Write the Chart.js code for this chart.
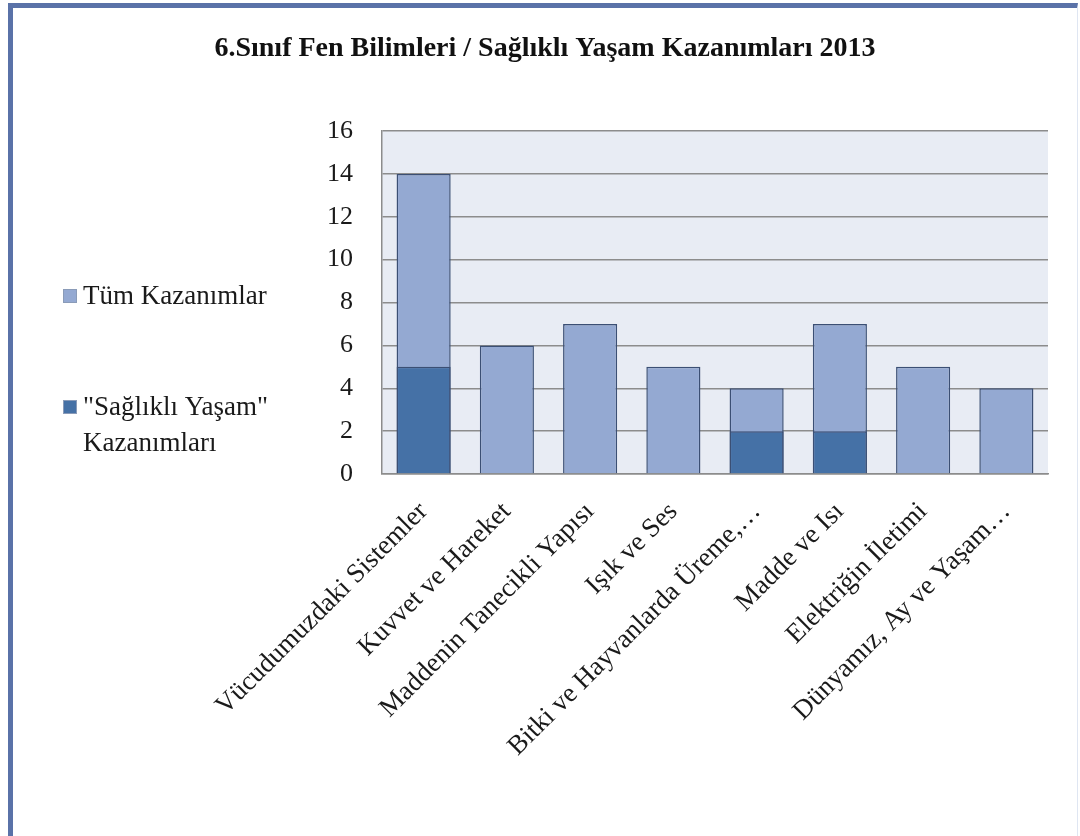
<!DOCTYPE html>
<html>
<head>
<meta charset="utf-8">
<script src="https://cdn.jsdelivr.net/npm/chart.js@4.4.0/dist/chart.umd.min.js"></script>
<style>
  body { margin: 0; background: #fff; }
  #wrap { position: relative; width: 1080px; height: 836px; overflow: hidden; }
  #frame { position: absolute; left: 8px; top: 3px; right: 2px; bottom: -10px;
           border-top: 5px solid #5a72a8; border-left: 5px solid #5a72a8; border-right: 1px solid #dfe6f2; }
  canvas { position: absolute; left: 0; top: 0; }
</style>
</head>
<body>
<div id="wrap">
  <div id="frame"></div>
  <canvas id="chart" width="1080" height="836"></canvas>
</div>
<script>
const chartTitle = '6.Sınıf Fen Bilimleri / Sağlıklı Yaşam Kazanımları 2013';
const categories = [
  'Vücudumuzdaki Sistemler',
  'Kuvvet ve Hareket',
  'Maddenin Tanecikli Yapısı',
  'Işık ve Ses',
  'Bitki ve Hayvanlarda Üreme,…',
  'Madde ve Isı',
  'Elektriğin İletimi',
  'Dünyamız, Ay ve Yaşam…'
];
const tumKazanimlar = [14, 6, 7, 5, 4, 7, 5, 4];
const saglikliYasam = [5, 0, 0, 0, 2, 2, 0, 0];
const yTicks = [0, 2, 4, 6, 8, 10, 12, 14, 16];

const serif = "'Liberation Serif', 'Times New Roman', serif";

// plot background
const plotBg = {
  id: 'plotBg',
  beforeDraw(chart) {
    const { ctx, chartArea: a } = chart;
    ctx.save();
    ctx.fillStyle = '#e8ecf4';
    ctx.fillRect(a.left, a.top, a.right - a.left, a.bottom - a.top);
    ctx.restore();
  }
};

// title centred on the whole picture, legend on the left
const sideLegend = {
  id: 'sideLegend',
  afterDraw(chart) {
    const ctx = chart.ctx;
    ctx.save();
    ctx.font = 'bold 28px ' + serif;
    ctx.fillStyle = '#111';
    ctx.textAlign = 'center';
    ctx.textBaseline = 'middle';
    ctx.fillText(chartTitle, 545, 49);

    const items = [
      { ds: chart.data.datasets[1], y: 296 },
      { ds: chart.data.datasets[0], y: 407 }
    ];
    ctx.font = '27px ' + serif;
    ctx.textAlign = 'left';
    items.forEach(it => {
      ctx.fillStyle = it.ds.backgroundColor;
      ctx.fillRect(63, it.y - 7, 14, 14);
      ctx.strokeStyle = '#8a9bb8';
      ctx.lineWidth = 1;
      ctx.strokeRect(63.5, it.y - 6.5, 13, 13);
      ctx.fillStyle = '#1a1a1a';
      // wrap long label
      const words = it.ds.label.split(' ');
      let line = '', lines = [];
      words.forEach(w => {
        const test = line ? line + ' ' + w : w;
        if (ctx.measureText(test).width > 215 && line) { lines.push(line); line = w; }
        else line = test;
      });
      lines.push(line);
      lines.forEach((l, i) => ctx.fillText(l, 83, it.y + 1 + i * 36));
    });
    ctx.restore();
  }
};

const ctx = document.getElementById('chart').getContext('2d');
const chart = new Chart(ctx, {
  type: 'bar',
  data: {
    labels: categories,
    datasets: [
      {
        label: '"Sağlıklı Yaşam" Kazanımları',
        data: saglikliYasam,
        backgroundColor: '#4571a6',
        borderColor: '#3b4f74',
        borderWidth: 1.5,
        barPercentage: 0.65,
        categoryPercentage: 1
      },
      {
        label: 'Tüm Kazanımlar',
        data: tumKazanimlar,
        backgroundColor: '#94a9d2',
        borderColor: '#3b4f74',
        borderWidth: 1.5,
        barPercentage: 0.65,
        categoryPercentage: 1
      }
    ]
  },
  options: {
    responsive: false,
    animation: false,
    layout: { padding: { left: 320, right: 32, top: 131, bottom: 0 } },
    plugins: {
      legend: { display: false },
      tooltip: { enabled: false },
      title: { display: false }
    },
    scales: {
      x: {
        stacked: true,
        grid: { display: false },
        border: { display: true, color: '#8c8c8c', width: 1.5 },
        ticks: {
          color: '#1a1a1a',
          font: { family: serif, size: 27 },
          minRotation: 45,
          maxRotation: 45,
          autoSkip: false,
          padding: 14
        },
        afterFit(scale) { scale.height = 362; }
      },
      y: {
        stacked: false,
        min: 0,
        max: 16,
        afterBuildTicks(scale) { scale.ticks = yTicks.map(v => ({ value: v })); },
        grid: { color: '#8c8c8c', lineWidth: 1.5, drawTicks: false },
        border: { display: true, color: '#8c8c8c', width: 1.5 },
        ticks: {
          color: '#1a1a1a',
          font: { family: serif, size: 26 },
          padding: 29
        },
        afterFit(scale) { scale.width = 62; }
      }
    }
  },
  plugins: [plotBg, sideLegend]
});
</script>
</body>
</html>
